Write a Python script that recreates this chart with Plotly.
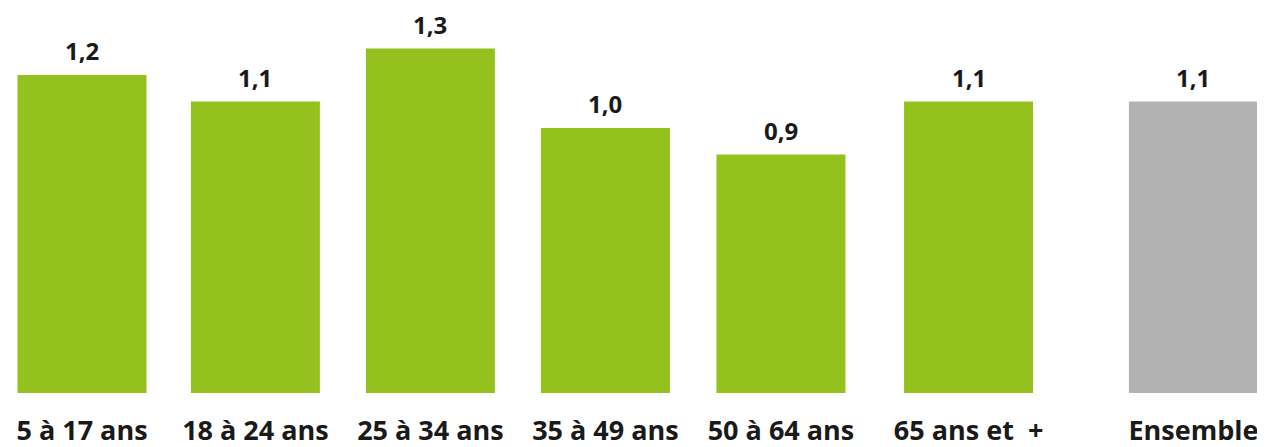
import plotly.graph_objects as go

categories = ["5 à 17 ans", "18 à 24 ans", "25 à 34 ans", "35 à 49 ans", "50 à 64 ans", "65 ans et  +", "Ensemble"]
values = [1.2, 1.1, 1.3, 1.0, 0.9, 1.1, 1.1]

# layout: slot positions along the axis (uneven spacing as in the original)
slots = [0, 0.991, 1.991, 2.991, 3.994, 5.066, 6.351]
colors = ["#95C11F"] * 6 + ["#B2B2B2"]

fig = go.Figure()
fig.add_trace(go.Bar(
    x=slots, y=values, width=0.737,
    marker=dict(color=colors, line=dict(width=0)),
    hoverinfo="skip",
))

for xs, v in zip(slots, values):
    fig.add_annotation(
        x=xs, y=v, text=f"{v:.1f}".replace(".", ","),
        showarrow=False, yanchor="bottom", yshift=6,
        font=dict(family="Open Sans", size=24, color="#1a1a1a", weight=700),
    )

fig.update_layout(
    width=1265, height=447,
    margin=dict(l=0, r=0, t=0, b=62),
    paper_bgcolor="white", plot_bgcolor="white",
    showlegend=False,
    xaxis=dict(
        range=[-74 / 175, (1265 - 74) / 175],
        tickmode="array", tickvals=slots, ticktext=categories,
        showgrid=False, zeroline=False, showline=False, ticks="",
        ticklabelstandoff=19,
        tickfont=dict(family="Open Sans", size=27, color="#1a1a1a", weight=700),
    ),
    yaxis=dict(range=[0, 385 / 265], visible=False),
)

fig.write_html("out.html")
